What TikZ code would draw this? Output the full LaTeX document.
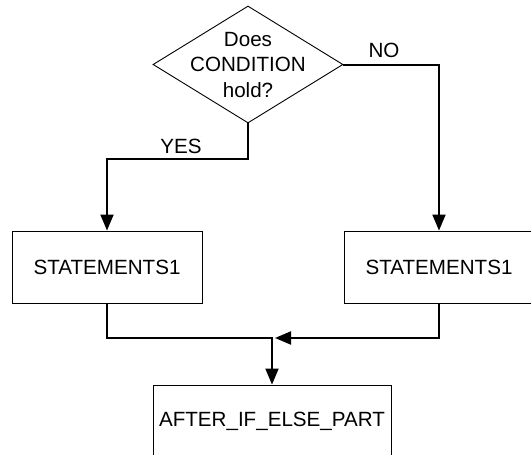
\documentclass[tikz,border=0pt]{standalone}
\usepackage{fontspec}
\setmainfont{Liberation Sans}
\usetikzlibrary{shapes.geometric,arrows.meta}
\begin{document}
\begin{tikzpicture}[x=1pt,y=-1pt,
  lbl/.style={font=\fontsize{20.6}{25.5}\selectfont},
  box/.style={draw, rectangle, line width=0.9pt, inner sep=0pt, lbl},
  flow/.style={line width=2pt},
  tip/.style={-{Triangle[length=16pt,width=13pt]}}]
\useasboundingbox (0,0) rectangle (531,455);

% decision
\node[draw, diamond, line width=0.9pt, inner sep=0pt,
      minimum width=190pt, minimum height=117pt] (cond) at (248,64.5) {};
\node[lbl, align=center, inner sep=0pt] (condtxt) at (248,65) {Does\\CONDITION\\hold?};

% branches and the statement after them
\node[box, minimum width=190pt, minimum height=72pt] (s1) at (107,267) {STATEMENTS1};
\node[box, minimum width=190pt, minimum height=72pt] (s2) at (439,267) {STATEMENTS1};
\node[box, minimum width=238pt, minimum height=72pt] (after) at (272,421) {AFTER\_IF\_ELSE\_PART};

% connectors
\draw[flow,tip] (cond.south) -- ++(0,36) -| (s1.north);
\node[lbl, inner sep=0pt] (yes) at (181,146) {YES};
\draw[flow,tip] (cond.east) -| (s2.north);
\node[lbl, inner sep=0pt] (no) at (384,50) {NO};

\coordinate (join) at (272,338);
\draw[flow] (s1.south) |- ([xshift=1pt]join);
\draw[flow,tip] (s2.south) |- ([xshift=3pt]join);
\draw[flow,tip] ([yshift=-1pt]join) -- (after.north);
\end{tikzpicture}
\end{document}
